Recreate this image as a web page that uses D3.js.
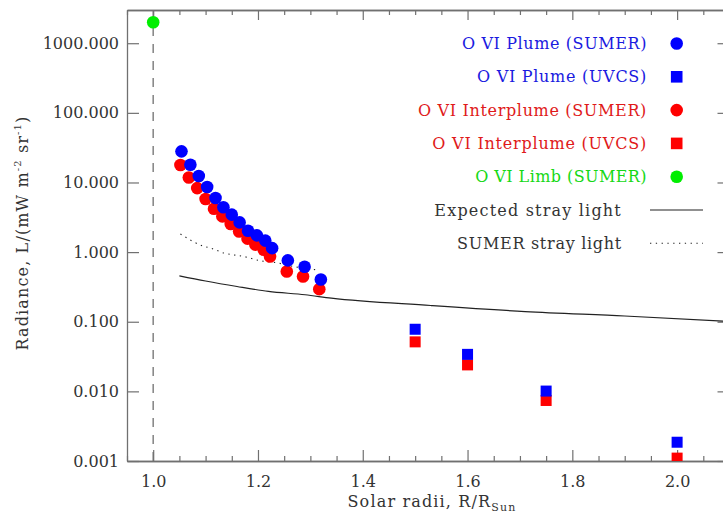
<!DOCTYPE html>
<html><head><meta charset="utf-8">
<script src="https://cdn.jsdelivr.net/npm/d3@7"></script>
<style>
html,body{margin:0;padding:0;background:#fff;}
svg{display:block;}
text{font-family:"DejaVu Serif",serif;}
</style></head>
<body>
<svg id="chart" width="723" height="513"></svg>
<script>
// ---- data ----
const plumeSumerX = [1.054,1.071,1.087,1.103,1.119,1.134,1.150,1.165,1.181,1.198,1.214,1.227,1.257,1.289,1.320];
const plumeSumerY = [28.0,18.0,12.4,8.6,6.0,4.4,3.45,2.67,2.03,1.74,1.46,1.14,0.76,0.615,0.405];
const interSumerX = [1.052,1.068,1.084,1.100,1.116,1.132,1.148,1.164,1.180,1.195,1.211,1.223,1.255,1.286,1.317];
const interSumerY = [17.8,11.8,8.3,5.8,4.2,3.26,2.53,1.98,1.56,1.28,1.08,0.865,0.527,0.447,0.294];
const uvcsX = [1.5,1.6,1.75,2.0];
const plumeUvcsY = [0.078,0.034,0.0101,0.00186];
const interUvcsY = [0.0514,0.024,0.0074,0.0011];
const limbX = [1.0];
const limbY = [2000];
const expectedX = [1.05,1.10,1.16,1.22,1.29,1.34,1.53,1.71,1.90,2.10];
const expectedY = [0.457,0.385,0.321,0.273,0.244,0.218,0.171,0.140,0.121,0.101];
const sumerStrayX = [1.052,1.097,1.11,1.135,1.173,1.205,1.237,1.268,1.313];
const sumerStrayY = [1.82,1.21,1.14,0.97,0.866,0.75,0.70,0.62,0.557];
const yTicks = [1000,100,10,1,0.1,0.01,0.001];
const yTickLabels = ["1000.000","100.000","10.000","1.000","0.100","0.010","0.001"];
const xMajor = [1.0,1.2,1.4,1.6,1.8,2.0];
const xTickLabels = ["1.0","1.2","1.4","1.6","1.8","2.0"];
const legendLabels = ["O VI Plume (SUMER)","O VI Plume (UVCS)","O VI Interplume (SUMER)","O VI Interplume (UVCS)","O VI Limb (SUMER)","Expected stray light","SUMER stray light"];

// ---- layout ----
const L = 127, R = 729.5, T = 10, B = 461;
const svg = d3.select("#chart");
const x = d3.scaleLinear().domain([0.95, 2.1]).range([L, R]);
const y = d3.scaleLog().domain([0.001, 3000]).range([B, T]);
const axisCol = "#707070", txtCol = "#333";
const BLUE = "#0000ff", RED = "#ff0000", GREEN = "#00ee00";

// stretch text to a target width by letter spacing (mimics the wide plotting font)
function fitWidth(sel, target){
  const node = sel.node();
  const w = node.getComputedTextLength();
  const n = node.textContent.length;
  if (n > 1) sel.style("letter-spacing", ((target - w) / n) + "px");
}

svg.append("defs").append("clipPath").attr("id","clip")
  .append("rect").attr("x",L).attr("y",T).attr("width",R-L).attr("height",B-T);

// dashed limb line
svg.append("line").attr("x1",x(1.0)).attr("x2",x(1.0)).attr("y1",T).attr("y2",B)
  .attr("stroke","#8a8a8a").attr("stroke-width",1.6).attr("stroke-dasharray","9,8");

// axes
const xMinorVals = d3.range(0, 24).map(i => 0.95 + i*0.05)
  .filter(v => v <= 2.1001 && !xMajor.some(m=>Math.abs(m-v)<1e-6));
const axB = d3.axisBottom(x).tickValues(xMajor).tickFormat((d,i)=>xTickLabels[i]).tickSize(-11).tickSizeOuter(0).tickPadding(15);
const gB = svg.append("g").attr("transform",`translate(0,${B})`).call(axB);
const axT = d3.axisTop(x).tickValues(xMajor).tickFormat("").tickSize(-10).tickSizeOuter(0);
const gT = svg.append("g").attr("transform",`translate(0,${T})`).call(axT);
const axBm = d3.axisBottom(x).tickValues(xMinorVals).tickFormat("").tickSize(-5).tickSizeOuter(0);
const gBm = svg.append("g").attr("transform",`translate(0,${B})`).call(axBm);
const axTm = d3.axisTop(x).tickValues(xMinorVals).tickFormat("").tickSize(-5).tickSizeOuter(0);
const gTm = svg.append("g").attr("transform",`translate(0,${T})`).call(axTm);
const axL = d3.axisLeft(y).tickValues(yTicks).tickFormat((d,i)=>yTickLabels[i]).tickSize(-12).tickSizeOuter(0).tickPadding(8);
const gL = svg.append("g").attr("transform",`translate(${L},0)`).call(axL);
const axR = d3.axisRight(y).tickValues(yTicks).tickFormat("").tickSize(-12).tickSizeOuter(0);
const gR = svg.append("g").attr("transform",`translate(${R},0)`).call(axR);
[gB,gT,gBm,gTm,gL,gR].forEach(g=>{
  g.selectAll(".domain").attr("stroke",axisCol).attr("stroke-width",1.3);
  g.selectAll(".tick line").attr("stroke",axisCol).attr("stroke-width",1.2);
  g.selectAll(".tick text").attr("fill",txtCol).style("font-family","DejaVu Serif").style("font-size","16px");
});

const plot = svg.append("g").attr("clip-path","url(#clip)");

// lines
const line = d3.line().x(d=>x(d[0])).y(d=>y(d[1])).curve(d3.curveMonotoneX);
plot.append("path").datum(d3.zip(expectedX, expectedY)).attr("d",line)
  .attr("fill","none").attr("stroke","#222").attr("stroke-width",1.2);
plot.append("path").datum(d3.zip(sumerStrayX, sumerStrayY)).attr("d",line)
  .attr("fill","none").attr("stroke","#222").attr("stroke-width",1.1).attr("stroke-dasharray","1.3,4.5");

// points
const rC = 6.3, sq = 11;
function circles(xs, ys, col){
  plot.append("g").selectAll("circle").data(d3.zip(xs,ys)).join("circle")
    .attr("cx",d=>x(d[0])).attr("cy",d=>y(d[1])).attr("r",rC).attr("fill",col);
}
function squares(xs, ys, col){
  plot.append("g").selectAll("rect").data(d3.zip(xs,ys)).join("rect")
    .attr("x",d=>x(d[0])-sq/2).attr("y",d=>y(d[1])-sq/2).attr("width",sq).attr("height",sq).attr("fill",col);
}
circles(interSumerX, interSumerY, RED);
circles(plumeSumerX, plumeSumerY, BLUE);
squares(uvcsX, interUvcsY, RED);
squares(uvcsX, plumeUvcsY, BLUE);
circles(limbX, limbY, GREEN);

// axis titles
const xt = svg.append("text").attr("x",432).attr("y",507).attr("text-anchor","middle")
  .attr("fill",txtCol).style("font-size","16px");
xt.append("tspan").text("Solar radii, R/R");
xt.append("tspan").attr("dy",4).style("font-size","11px").text("Sun");
fitWidth(xt, 169);

const yt = svg.append("text").attr("transform",`translate(28,233) rotate(-90)`).attr("text-anchor","middle")
  .attr("fill",txtCol).style("font-size","16px");
yt.append("tspan").text("Radiance, L/(mW m");
yt.append("tspan").attr("dy",-7).style("font-size","10px").text("-2");
yt.append("tspan").attr("dy",7).text(" sr");
yt.append("tspan").attr("dy",-7).style("font-size","10px").text("-1");
yt.append("tspan").attr("dy",7).text(")");
fitWidth(yt, 235);

// legend
const legY0 = 43.5, legDY = 33.3, symX = 676.7;
const legWidths = [185,170,229,214.7,171.7,187.7,165];
const legColors = [BLUE, BLUE, RED, RED, GREEN, txtCol, txtCol];
const legTextCol = ["#1a1ae0","#1a1ae0","#e01a1a","#e01a1a","#16d816",txtCol,txtCol];
legendLabels.forEach((lab,i)=>{
  const yy = legY0 + i*legDY;
  const tx = i < 5 ? 647 : 622;
  const t = svg.append("text").attr("x",tx).attr("y",yy+5.5).attr("text-anchor","start")
    .attr("fill",legTextCol[i]).style("font-size","16px").text(lab);
  fitWidth(t, legWidths[i]);
  t.attr("x", tx - legWidths[i]);
  if (i===0||i===2||i===4) svg.append("circle").attr("cx",symX).attr("cy",yy).attr("r",rC).attr("fill",legColors[i]);
  else if (i===1||i===3) svg.append("rect").attr("x",symX-5.8).attr("y",yy-5.8).attr("width",11.6).attr("height",11.6).attr("fill",legColors[i]);
  else if (i===5) svg.append("line").attr("x1",650).attr("x2",703).attr("y1",yy).attr("y2",yy).attr("stroke","#222").attr("stroke-width",1.2);
  else svg.append("line").attr("x1",650).attr("x2",703).attr("y1",yy).attr("y2",yy).attr("stroke","#222").attr("stroke-width",1.1).attr("stroke-dasharray","1.3,4.5");
});
</script>
</body></html>
